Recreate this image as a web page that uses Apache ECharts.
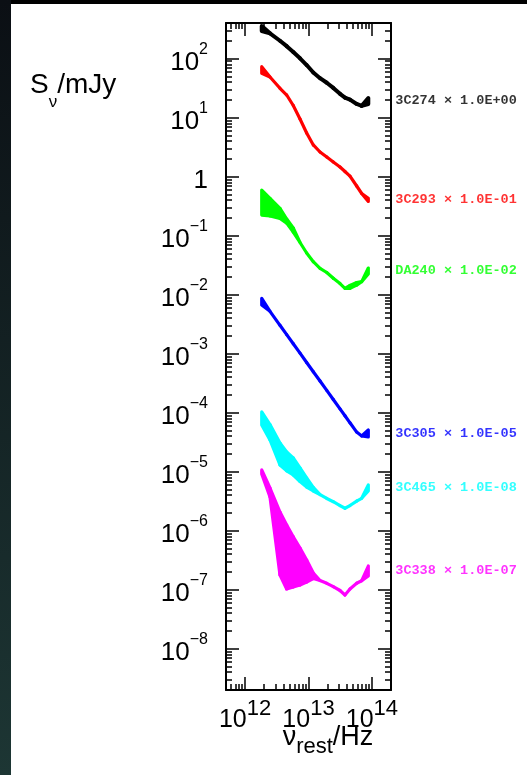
<!DOCTYPE html>
<html><head><meta charset="utf-8">
<script src="https://cdn.jsdelivr.net/npm/echarts@6/dist/echarts.min.js"></script>
<style>html,body{margin:0;padding:0;background:#fff;}#c{width:527px;height:775px;}</style>
</head><body><div id="c"></div>
<script>
// ---- data ----
const freqHz = [1.83e12, 2.47e12, 3.55e12, 4.53e12, 5.75e12, 7.35e12, 9.35e12, 1.19e13, 1.52e13, 1.94e13, 2.46e13, 3.14e13, 3.76e13, 4.51e13, 5.75e13, 6.90e13, 8.77e13];
const sourceNames = ['3C274', '3C293', 'DA240', '3C305', '3C465', '3C338'];
const scaleLabels = ['1.0E+00', '1.0E-01', '1.0E-02', '1.0E-05', '1.0E-08', '1.0E-07'];
// flux density (mJy, already multiplied by the scale factor): upper / lower edge of each band
const hi3C274 = [356, 267, 200, 162, 129, 101, 77.6, 57.9, 46.5, 38.9, 31.8, 25.2, 21.7, 20.1, 17.0, 15.8, 21.4];
const lo3C274 = [292, 267, 200, 162, 129, 101, 77.6, 57.9, 46.5, 38.9, 31.8, 25.2, 21.7, 20.1, 17.0, 15.8, 17.0];
const hi3C293 = [72.7, 48.6, 31.3, 24.1, 16.0, 9.45, 5.47, 3.43, 2.61, 2.15, 1.77, 1.45, 1.22, 1.02, 0.692, 0.517, 0.43];
const lo3C293 = [56.2, 48.6, 31.3, 24.1, 16.0, 9.45, 5.47, 3.43, 2.61, 2.15, 1.77, 1.45, 1.22, 1.02, 0.692, 0.517, 0.38];
const hiDA240 = [0.592, 0.428, 0.288, 0.191, 0.1345, 0.0764, 0.0507, 0.0361, 0.0279, 0.0237, 0.0189, 0.0154, 0.0128, 0.0143, 0.0160, 0.0166, 0.0282];
const loDA240 = [0.223, 0.215, 0.196, 0.163, 0.115, 0.0764, 0.0507, 0.0361, 0.0279, 0.0237, 0.0189, 0.0154, 0.0128, 0.0128, 0.0145, 0.0166, 0.0223];
const hi3C305 = [8.66e-3, 5.21e-3, 3.02e-3, 2.10e-3, 1.47e-3, 1.02e-3, 7.08e-4, 4.94e-4, 3.44e-4, 2.39e-4, 1.67e-4, 1.16e-4, 8.85e-5, 6.73e-5, 4.69e-5, 4.03e-5, 5.08e-5];
const lo3C305 = [6.67e-3, 5.21e-3, 3.02e-3, 2.10e-3, 1.47e-3, 1.02e-3, 7.08e-4, 4.94e-4, 3.44e-4, 2.39e-4, 1.67e-4, 1.16e-4, 8.85e-5, 6.73e-5, 4.69e-5, 4.03e-5, 3.87e-5];
const hi3C465 = [1.03e-4, 6.30e-5, 3.06e-5, 2.15e-5, 1.71e-5, 1.155e-5, 7.82e-6, 5.40e-6, 4.10e-6, 3.52e-6, 3.10e-6, 2.67e-6, 2.40e-6, 2.67e-6, 3.18e-6, 3.54e-6, 5.95e-6];
const lo3C465 = [6.18e-5, 3.44e-5, 1.30e-5, 1.03e-5, 8.79e-6, 6.82e-6, 5.50e-6, 4.71e-6, 4.10e-6, 3.52e-6, 3.10e-6, 2.67e-6, 2.40e-6, 2.67e-6, 3.18e-6, 3.54e-6, 4.71e-6];
const hi3C338 = [1.07e-5, 5.29e-6, 2.07e-6, 1.25e-6, 7.91e-7, 5.09e-7, 3.19e-7, 1.92e-7, 1.43e-7, 1.285e-7, 1.125e-7, 9.70e-8, 8.14e-8, 1.03e-7, 1.285e-7, 1.42e-7, 2.52e-7];
const lo3C338 = [9.14e-6, 3.72e-6, 1.77e-7, 1.03e-7, 1.11e-7, 1.20e-7, 1.35e-7, 1.55e-7, 1.43e-7, 1.285e-7, 1.125e-7, 9.70e-8, 8.14e-8, 1.03e-7, 1.285e-7, 1.42e-7, 1.71e-7];
const xTickExp = [12, 13, 14];
const yTickExp = [2, 1, 0, -1, -2, -3, -4, -5, -6, -7, -8];
const xRangeHz = [5e11, 2e14];
const yRangeMJy = [2e-9, 4e2];

// ---- build ----
const L = Math.log10;
const colors = ['#000000', '#ff0000', '#00ff00', '#0000ff', '#00ffff', '#ff00ff'];
const his = [hi3C274, hi3C293, hiDA240, hi3C305, hi3C465, hi3C338];
const los = [lo3C274, lo3C293, loDA240, lo3C305, lo3C465, lo3C338];
const xMin = L(xRangeHz[0]), xMax = L(xRangeHz[1]);
const yMin = L(yRangeMJy[0]), yMax = L(yRangeMJy[1]);
function minorTicks(nFrom, nTo, lo, hi) {
  const out = [];
  for (let n = nFrom; n <= nTo; n++) for (let k = 2; k <= 9; k++) {
    const v = n + L(k);
    if (v > lo + 1e-6 && v < hi - 1e-6) out.push(v);
  }
  return out;
}
const xMinor = minorTicks(11, 14, xMin, xMax);
const yMinor = minorTicks(-9, 2, yMin, yMax);
const FONT = 'Liberation Sans';

function mkX(pos, major, labels) {
  return {
    type: 'value', position: pos, min: xMin, max: xMax, gridIndex: 0,
    axisLine: { show: major, onZero: false, lineStyle: { color: '#000', width: 2 } },
    splitLine: { show: false },
    axisTick: { show: true, inside: true, length: major ? 13 : 6, lineStyle: { color: '#000', width: 1.5 },
      customValues: major ? xTickExp : xMinor },
    axisLabel: labels ? {
      show: true, customValues: xTickExp, margin: 8, color: '#000', fontFamily: FONT,
      formatter: v => '{b|10}{s|' + Math.round(v) + '}',
      rich: { b: { fontSize: 25, lineHeight: 35, verticalAlign: 'bottom', fontFamily: FONT, color: '#000' },
              s: { fontSize: 22, lineHeight: 10, verticalAlign: 'top', fontFamily: FONT, color: '#000' } }
    } : { show: false }
  };
}
function mkY(pos, major, labels) {
  return {
    type: 'value', position: pos, min: yMin, max: yMax, gridIndex: 0,
    axisLine: { show: major, onZero: false, lineStyle: { color: '#000', width: 2 } },
    splitLine: { show: false },
    axisTick: { show: true, inside: true, length: major ? 13 : 6, lineStyle: { color: '#000', width: 1.5 },
      customValues: major ? yTickExp : yMinor },
    axisLabel: labels ? {
      show: true, customValues: yTickExp, margin: 18, color: '#000', fontFamily: FONT,
      formatter: v => { const n = Math.round(v); return n === 0 ? '{b|1}' : '{b|10}{s|' + (n < 0 ? '\u2212' : '') + Math.abs(n) + '}'; },
      rich: { b: { fontSize: 26, lineHeight: 34, verticalAlign: 'bottom', fontFamily: FONT, color: '#000' },
              s: { fontSize: 16, lineHeight: 11, verticalAlign: 'top', fontFamily: FONT, color: '#000' } }
    } : { show: false }
  };
}

const series = [];
sourceNames.forEach((name, si) => {
  const hi = his[si], lo = los[si], col = colors[si];
  const segs = [];
  for (let i = 0; i < freqHz.length - 1; i++) {
    segs.push([L(freqHz[i]), L(lo[i]), L(hi[i]), L(freqHz[i + 1]), L(lo[i + 1]), L(hi[i + 1])]);
  }
  series.push({
    type: 'custom', name: name, xAxisIndex: 0, yAxisIndex: 0, silent: true,
    encode: { x: [0, 3], y: [1, 2, 4, 5] },
    data: segs,
    renderItem: function (params, api) {
      const pts = [
        api.coord([api.value(0), api.value(2)]),
        api.coord([api.value(3), api.value(5)]),
        api.coord([api.value(3), api.value(4)]),
        api.coord([api.value(0), api.value(1)])
      ];
      return { type: 'polygon', shape: { points: pts },
        style: { fill: col, stroke: col, lineWidth: si === 0 ? 4 : 3.2, lineJoin: 'round' } };
    }
  });
  const last = freqHz.length - 1;
  series.push({
    type: 'scatter', xAxisIndex: 0, yAxisIndex: 0, symbolSize: 0, silent: true,
    data: [[L(freqHz[last]), (L(hi[last]) + L(lo[last])) / 2]],
    label: { show: true, position: 'right', distance: 27,
      formatter: name + ' \u00d7 ' + scaleLabels[si],
      color: col, fontFamily: 'Liberation Mono', fontWeight: 'bold', fontSize: 13.5 }
  });
});

const chart = echarts.init(document.getElementById('c'), null, { renderer: 'canvas' });
chart.setOption({
  animation: false,
  backgroundColor: '#ffffff',
  grid: { left: 226, top: 23, width: 165, height: 667, show: true, backgroundColor: '#fff', borderWidth: 0 },
  xAxis: [mkX('bottom', true, true), mkX('bottom', false, false), mkX('top', true, false), mkX('top', false, false)],
  yAxis: [mkY('left', true, true), mkY('left', false, false), mkY('right', true, false), mkY('right', false, false)],
  series: series,
  graphic: [
    { type: 'rect', silent: true, shape: { x: 0, y: 0, width: 527, height: 4 }, style: { fill: '#000' } },
    { type: 'rect', silent: true, shape: { x: 0, y: 0, width: 11, height: 775 },
      style: { fill: new echarts.graphic.LinearGradient(0, 0, 0, 1, [{ offset: 0, color: '#0b0f14' }, { offset: 1, color: '#1d3634' }]) } },
    { type: 'text', silent: true, style: { x: 30, y: 91, verticalAlign: 'middle', align: 'left',
        text: '{a|S}{b|\u03bd}{a|/mJy}',
        rich: { a: { fontSize: 28, lineHeight: 40, verticalAlign: 'top', fontFamily: FONT, fill: '#000', color: '#000' },
                b: { fontSize: 17, lineHeight: 13, verticalAlign: 'bottom', fontFamily: FONT, fill: '#000', color: '#000' } } } },
    { type: 'text', silent: true, style: { x: 328, y: 741, verticalAlign: 'middle', align: 'center',
        text: '{a|\u03bd}{b|rest}{a|/Hz}',
        rich: { a: { fontSize: 27, lineHeight: 34, verticalAlign: 'top', fontFamily: FONT, fill: '#000', color: '#000' },
                b: { fontSize: 22, lineHeight: 14, verticalAlign: 'bottom', fontFamily: FONT, fill: '#000', color: '#000' } } } }
  ]
});
</script></body></html>
